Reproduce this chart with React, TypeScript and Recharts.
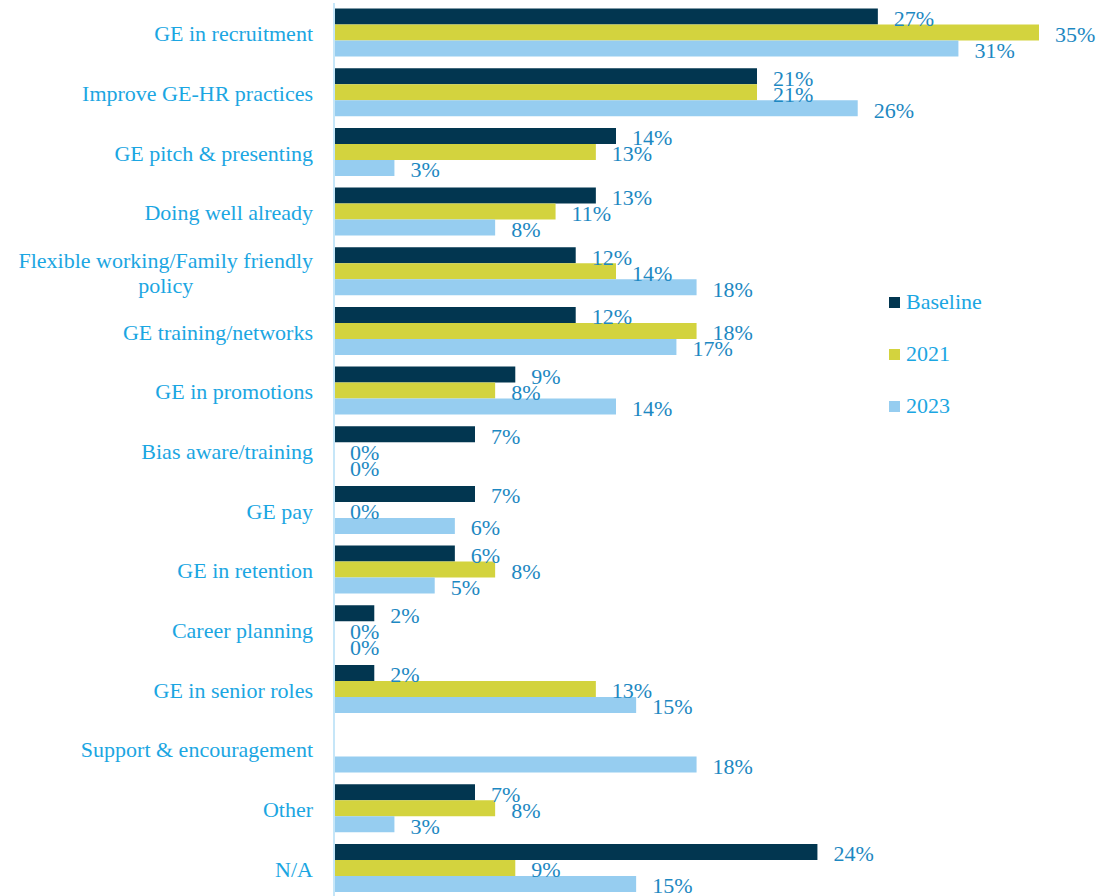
import React from 'react';
import { BarChart, Bar, XAxis, YAxis, LabelList, Legend } from 'recharts';

const categories = [
  'GE in recruitment',
  'Improve GE-HR practices',
  'GE pitch & presenting',
  'Doing well already',
  'Flexible working/Family friendly policy',
  'GE training/networks',
  'GE in promotions',
  'Bias aware/training',
  'GE pay',
  'GE in retention',
  'Career planning',
  'GE in senior roles',
  'Support & encouragement',
  'Other',
  'N/A',
];

const baseline: (number | null)[] = [27, 21, 14, 13, 12, 12, 9, 7, 7, 6, 2, 2, null, 7, 24];
const y2021: (number | null)[] = [35, 21, 13, 11, 14, 18, 8, 0, 0, 8, 0, 13, null, 8, 9];
const y2023: (number | null)[] = [31, 26, 3, 8, 18, 17, 14, 0, 6, 5, 0, 15, 18, 3, 15];

const seriesNames = ['Baseline', '2021', '2023'];
const seriesKeys = ['baseline', 'y2021', 'y2023'];
const seriesColors = ['#023650', '#d3d33e', '#96cdf0'];

const data = categories.map((name, i) => ({
  name,
  baseline: baseline[i],
  y2021: y2021[i],
  y2023: y2023[i],
}));

const FONT = '"Liberation Serif", "Times New Roman", serif';
const CAT_COLOR = '#1ba6e2';
const VAL_COLOR = '#1d88c2';
const FS = 22;

function wrapLabel(text: string, maxChars: number): string[] {
  const words = text.split(' ');
  const lines: string[] = [];
  let cur = '';
  for (const w of words) {
    const next = cur ? cur + ' ' + w : w;
    if (next.length > maxChars && cur) {
      lines.push(cur);
      cur = w;
    } else {
      cur = next;
    }
  }
  if (cur) lines.push(cur);
  return lines;
}

let ctx: CanvasRenderingContext2D | null = null;
function measure(text: string): number {
  if (!ctx) {
    const c = document.createElement('canvas');
    ctx = c.getContext('2d');
  }
  if (!ctx) return text.length * 9;
  ctx.font = `${FS}px ${FONT}`;
  return ctx.measureText(text).width;
}

const CategoryTick = (props: any) => {
  const { x, y, payload } = props;
  const lines = wrapLabel(String(payload.value), 32);
  if (lines.length === 1) {
    return (
      <text x={x} y={y + 1} textAnchor="end" dominantBaseline="central" fill={CAT_COLOR} fontSize={FS} fontFamily={FONT}>
        {lines[0]}
      </text>
    );
  }
  const maxW = Math.max(...lines.map(measure));
  const cx = x - maxW / 2;
  const lh = 25;
  const y0 = y + 1 - ((lines.length - 1) * lh) / 2;
  return (
    <text textAnchor="middle" fill={CAT_COLOR} fontSize={FS} fontFamily={FONT}>
      {lines.map((l, i) => (
        <tspan key={i} x={cx} y={y0 + i * lh} dominantBaseline="central">
          {l}
        </tspan>
      ))}
    </text>
  );
};

const ValueLabel = (props: any) => {
  const { x, y, width, height, value } = props;
  if (value === null || value === undefined) return null;
  return (
    <text
      x={x + width + 16}
      y={y + height / 2 + 2}
      textAnchor="start"
      dominantBaseline="central"
      fill={VAL_COLOR}
      fontSize={FS}
      fontFamily={FONT}
    >
      {`${value}%`}
    </text>
  );
};

const LegendContent = () => (
  <div style={{ fontFamily: FONT, fontSize: FS, color: CAT_COLOR }}>
    {seriesNames.map((n, i) => (
      <div key={n} style={{ display: 'flex', alignItems: 'center', height: 52 }}>
        <span style={{ display: 'inline-block', width: 11, height: 11, background: seriesColors[i], marginRight: 6 }} />
        <span>{n}</span>
      </div>
    ))}
  </div>
);

export default function App() {
  return (
    <div style={{ position: 'fixed', left: 0, top: 0, width: 1096, height: 896, overflow: 'hidden', background: '#fff' }}>
      <BarChart
        width={1096}
        height={900}
        data={data}
        layout="vertical"
        margin={{ top: 3, right: 57, bottom: 2, left: 0 }}
        barCategoryGap="9.3%"
        barGap={0}
      >
        <XAxis type="number" domain={[0, 35]} hide />
        <YAxis
          type="category"
          dataKey="name"
          width={334}
          axisLine={{ stroke: '#c6e6f8', strokeWidth: 2 }}
          tickLine={false}
          tickSize={0}
          tickMargin={21}
          interval={0}
          tick={<CategoryTick />}
        />
        <Legend
          layout="vertical"
          align="center"
          verticalAlign="middle"
          content={<LegendContent />}
          wrapperStyle={{ left: 889, top: 276, width: 150 }}
        />
        {seriesKeys.map((k, i) => (
          <Bar
            key={k}
            dataKey={k}
            name={seriesNames[i]}
            fill={seriesColors[i]}
            minPointSize={0.01}
            isAnimationActive={false}
          >
            <LabelList dataKey={k} content={<ValueLabel />} />
          </Bar>
        ))}
      </BarChart>
    </div>
  );
}
